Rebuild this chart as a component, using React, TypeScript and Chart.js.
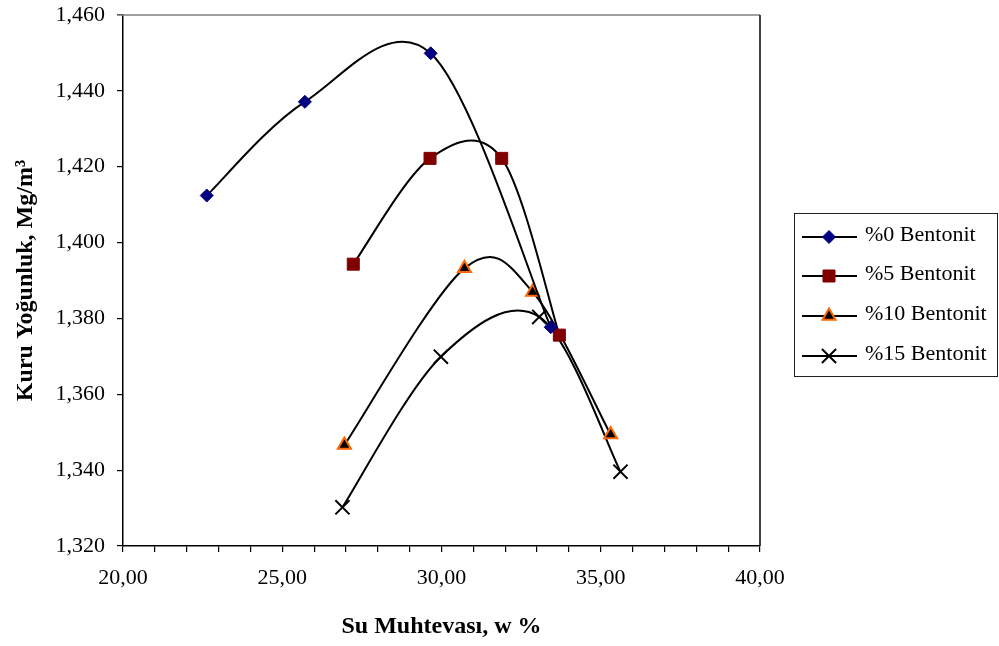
import React, { useEffect, useRef } from "react";
import { Chart, registerables } from "chart.js";

Chart.register(...registerables);

const seriesNames = ["%0 Bentonit", "%5 Bentonit", "%10 Bentonit", "%15 Bentonit"];

const bent0X = [22.63, 25.71, 29.66, 33.43];
const bent0Y = [1.4124, 1.4371, 1.4499, 1.3777];
const bent5X = [27.23, 29.64, 31.89, 33.7];
const bent5Y = [1.3943, 1.4222, 1.4222, 1.3756];
const bent10X = [26.95, 30.72, 32.86, 35.31];
const bent10Y = [1.3466, 1.3932, 1.387, 1.3494];
const bent15X = [26.89, 29.98, 33.07, 35.62];
const bent15Y = [1.3302, 1.3699, 1.3804, 1.3396];

const xMin = 20;
const xMax = 40;
const xLabelStep = 5;
const yMin = 1.32;
const yMax = 1.46;
const yStep = 0.02;

const xTitle = "Su Muhtevası, w %";
const yTitle = "Kuru Yoğunluk, Mg/m³";

const SERIF = '"Liberation Serif", "Times New Roman", serif';

const styles = [
  { pointStyle: "rectRot", radius: 6.5, fill: "#000080", stroke: "#000080", bw: 1 },
  { pointStyle: "rect", radius: 8.5, fill: "#800000", stroke: "#800000", bw: 1 },
  { pointStyle: "triangle", radius: 7.5, fill: "#000000", stroke: "#FF6600", bw: 2 },
  { pointStyle: "crossRot", radius: 10, fill: "#000000", stroke: "#000000", bw: 2 },
];

function toPoints(xs: number[], ys: number[]) {
  return xs.map((x, i) => ({ x, y: ys[i] }));
}

function drawMarker(ctx: CanvasRenderingContext2D, style: string, x: number, y: number, r: number, fill: string, stroke: string, bw: number) {
  ctx.save();
  ctx.fillStyle = fill;
  ctx.strokeStyle = stroke;
  ctx.lineWidth = bw;
  ctx.beginPath();
  if (style === "rectRot") {
    ctx.moveTo(x, y - r);
    ctx.lineTo(x + r, y);
    ctx.lineTo(x, y + r);
    ctx.lineTo(x - r, y);
    ctx.closePath();
    ctx.fill();
    ctx.stroke();
  } else if (style === "rect") {
    const s = Math.SQRT1_2 * r;
    ctx.rect(x - s, y - s, 2 * s, 2 * s);
    ctx.fill();
    ctx.stroke();
  } else if (style === "triangle") {
    for (let i = 0; i < 3; i++) {
      const a = (i * 2 * Math.PI) / 3;
      const px = x + Math.sin(a) * r;
      const py = y - Math.cos(a) * r;
      if (i === 0) ctx.moveTo(px, py);
      else ctx.lineTo(px, py);
    }
    ctx.closePath();
    ctx.fill();
    ctx.stroke();
  } else {
    const d = Math.SQRT1_2 * r;
    ctx.moveTo(x - d, y - d);
    ctx.lineTo(x + d, y + d);
    ctx.moveTo(x + d, y - d);
    ctx.lineTo(x - d, y + d);
    ctx.stroke();
  }
  ctx.restore();
}

// Excel-like smoothing: uniform Catmull-Rom control points (1/6 of neighbour span)
const smoothPlugin = {
  id: "excelSmooth",
  beforeDatasetsDraw(chart: any) {
    chart.data.datasets.forEach((_ds: any, i: number) => {
      const meta = chart.getDatasetMeta(i);
      const line: any = meta.dataset;
      const pts: any[] = meta.data;
      const n = pts.length;
      for (let j = 0; j < n; j++) {
        const p = pts[j];
        const prev = pts[Math.max(j - 1, 0)];
        const next = pts[Math.min(j + 1, n - 1)];
        const tx = (next.x - prev.x) / 6;
        const ty = (next.y - prev.y) / 6;
        p.cp1x = p.x - tx;
        p.cp1y = p.y - ty;
        p.cp2x = p.x + tx;
        p.cp2y = p.y + ty;
      }
      if (line) {
        line._pointsUpdated = true;
        delete line._path;
      }
    });
  },
};

const framePlugin = {
  id: "frameAndLegend",
  afterDraw(chart: any) {
    const ctx: CanvasRenderingContext2D = chart.ctx;
    const { left, right, top, bottom } = chart.chartArea;
    ctx.save();
    ctx.strokeStyle = "#808080";
    ctx.lineWidth = 1.5;
    ctx.beginPath();
    ctx.moveTo(left - 6, top);
    ctx.lineTo(right, top);
    ctx.stroke();
    ctx.strokeStyle = "#000000";
    ctx.beginPath();
    ctx.moveTo(right, top);
    ctx.lineTo(right, bottom);
    ctx.stroke();

    const bx = 794.5, by = 213.5, bwid = 203, bh = 163;
    ctx.fillStyle = "#ffffff";
    ctx.fillRect(bx, by, bwid, bh);
    ctx.strokeStyle = "#222222";
    ctx.lineWidth = 1;
    ctx.strokeRect(bx, by, bwid, bh);
    const rows = [237, 276, 316, 356];
    ctx.font = "22px " + SERIF;
    ctx.textBaseline = "middle";
    ctx.textAlign = "left";
    chart.data.datasets.forEach((ds: any, i: number) => {
      const y = rows[i];
      ctx.strokeStyle = "#000000";
      ctx.lineWidth = 2;
      ctx.beginPath();
      ctx.moveTo(802, y);
      ctx.lineTo(857, y);
      ctx.stroke();
      const st = styles[i];
      drawMarker(ctx, st.pointStyle, 829, y, st.radius, st.fill, st.stroke, st.bw);
      ctx.fillStyle = "#000000";
      ctx.fillText(ds.label, 865, y - 1.5);
    });
    ctx.restore();
  },
};

export default function App() {
  const ref = useRef<HTMLCanvasElement | null>(null);

  useEffect(() => {
    if (!ref.current) return;
    const xsList = [bent0X, bent5X, bent10X, bent15X];
    const ysList = [bent0Y, bent5Y, bent10Y, bent15Y];
    const datasets = seriesNames.map((name, i) => ({
      label: name,
      data: toPoints(xsList[i], ysList[i]),
      showLine: true,
      borderColor: "#000000",
      borderWidth: 2,
      tension: 0.4,
      pointStyle: styles[i].pointStyle,
      pointRadius: styles[i].radius,
      pointBackgroundColor: styles[i].fill,
      pointBorderColor: styles[i].stroke,
      pointBorderWidth: styles[i].bw,
      pointHoverRadius: styles[i].radius,
    }));

    const chart = new Chart(ref.current, {
      type: "scatter",
      data: { datasets },
      plugins: [smoothPlugin, framePlugin],
      options: {
        animation: false,
        responsive: false,
        devicePixelRatio: 1,
        events: [],
        layout: { padding: { left: 0, top: 15, right: 239, bottom: 0 } },
        plugins: {
          legend: { display: false },
          tooltip: { enabled: false },
        },
        scales: {
          x: {
            type: "linear",
            min: xMin,
            max: xMax,
            afterFit: (s: any) => {
              s.height = 100;
              s.paddingLeft = 0;
              s.paddingRight = 0;
            },
            border: { color: "#000000", width: 1.5 },
            grid: {
              drawOnChartArea: false,
              drawTicks: true,
              tickLength: 6,
              color: "#000000",
              lineWidth: 1.2,
            },
            ticks: {
              stepSize: 1,
              autoSkip: false,
              maxRotation: 0,
              padding: 13,
              color: "#000000",
              font: { family: SERIF, size: 22 },
              callback: (v: any) => {
                const n = Number(v);
                return Math.abs(n % xLabelStep) < 1e-6 ? n.toFixed(2).replace(".", ",") : "";
              },
            },
            title: {
              display: true,
              text: xTitle,
              color: "#000000",
              font: { family: SERIF, size: 24, weight: "bold" },
              padding: { top: 0, bottom: 5 },
            },
          },
          y: {
            type: "linear",
            min: yMin,
            max: yMax,
            afterFit: (s: any) => {
              s.width = 123;
              s.paddingTop = 0;
              s.paddingBottom = 0;
            },
            border: { color: "#000000", width: 1.5 },
            grid: {
              drawOnChartArea: false,
              drawTicks: true,
              tickLength: 6,
              color: "#000000",
              lineWidth: 1.2,
            },
            ticks: {
              stepSize: yStep,
              padding: 12,
              color: "#000000",
              font: { family: SERIF, size: 22 },
              callback: (v: any) => Number(v).toFixed(3).replace(".", ","),
            },
            title: {
              display: true,
              text: yTitle,
              color: "#000000",
              font: { family: SERIF, size: 24, weight: "bold" },
              padding: { top: 11, bottom: 0 },
            },
          },
        },
      },
    } as any);
    return () => chart.destroy();
  }, []);

  return (
    <div style={{ position: "fixed", left: 0, top: 0, width: 999, height: 646, background: "#ffffff" }}>
      <canvas ref={ref} width={999} height={646} style={{ width: 999, height: 646, display: "block" }} />
    </div>
  );
}
